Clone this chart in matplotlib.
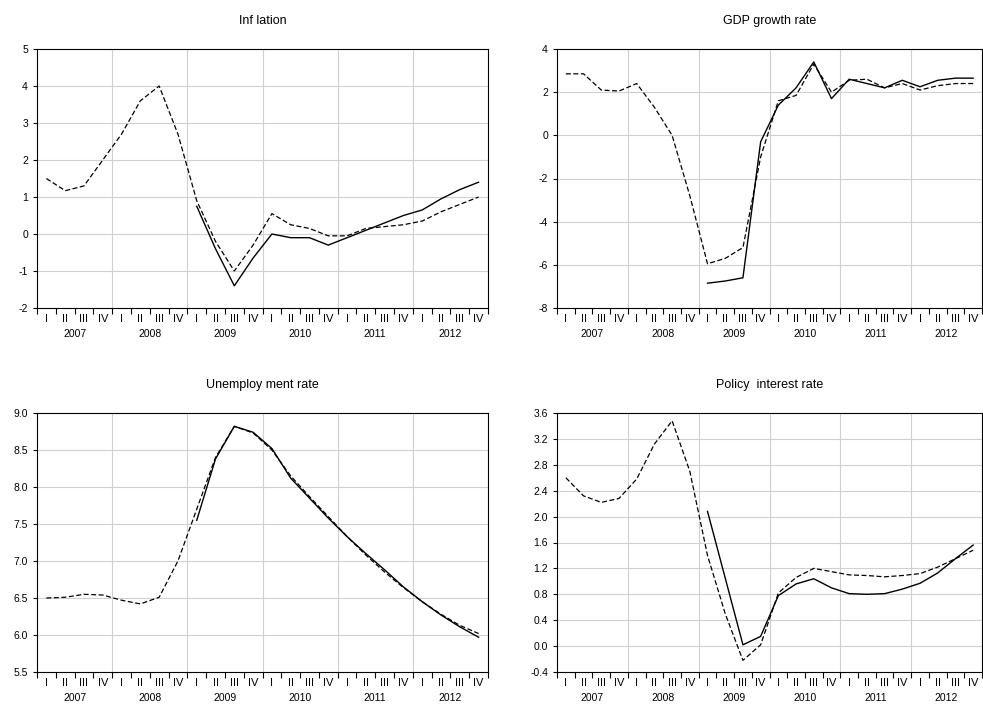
import matplotlib
matplotlib.use('Agg')
import matplotlib.pyplot as plt
import numpy as np

matplotlib.rcParams['font.family'] = ['Liberation Sans', 'DejaVu Sans']
matplotlib.rcParams['font.size'] = 7.5

years = ['2007', '2008', '2009', '2010', '2011', '2012']
quarters = ['I', 'II', 'III', 'IV']

infl_dash = [1.5, 1.17, 1.3, 2.0, 2.7, 3.6, 4.0, 2.7, 0.9, -0.2, -1.0, -0.3,
             0.55, 0.25, 0.15, -0.05, -0.05, 0.15, 0.2, 0.25, 0.35, 0.6, 0.8, 1.0]
infl_solid = [0.75, -0.4, -1.4, -0.65, 0.0, -0.1, -0.1, -0.3,
              -0.1, 0.1, 0.3, 0.5, 0.65, 0.95, 1.2, 1.4]

gdp_dash = [2.85, 2.85, 2.1, 2.05, 2.4, 1.3, 0.0, -2.8, -5.95, -5.7, -5.2, -1.0,
            1.6, 1.85, 3.3, 2.0, 2.55, 2.6, 2.2, 2.4, 2.1, 2.3, 2.4, 2.4]
gdp_solid = [-6.85, -6.75, -6.6, -0.3, 1.4, 2.2, 3.4, 1.7,
             2.6, 2.4, 2.2, 2.55, 2.25, 2.55, 2.65, 2.65]

unemp_dash = [6.5, 6.51, 6.55, 6.54, 6.47, 6.42, 6.51, 7.0, 7.7, 8.4, 8.82, 8.73,
              8.5, 8.15, 7.87, 7.6, 7.33, 7.08, 6.85, 6.64, 6.45, 6.28, 6.13, 6.02]
unemp_solid = [7.55, 8.38, 8.82, 8.74, 8.52, 8.12, 7.85, 7.58,
               7.33, 7.1, 6.88, 6.65, 6.45, 6.27, 6.11, 5.97]

rate_dash = [2.6, 2.32, 2.22, 2.28, 2.58, 3.12, 3.48, 2.7, 1.4, 0.5, -0.22, 0.02,
             0.82, 1.06, 1.2, 1.15, 1.10, 1.09, 1.07, 1.09, 1.12, 1.22, 1.35, 1.48]
rate_solid = [2.08, 1.05, 0.02, 0.15, 0.78, 0.96, 1.04, 0.9,
              0.81, 0.80, 0.81, 0.88, 0.97, 1.13, 1.35, 1.56]

panels = [
    ('Inf lation', infl_dash, infl_solid, (-2, 5), np.arange(-2, 5.1, 1), '%d'),
    ('GDP growth rate', gdp_dash, gdp_solid, (-8, 4), np.arange(-8, 4.1, 2), '%d'),
    ('Unemploy ment rate', unemp_dash, unemp_solid, (5.5, 9.0), np.arange(5.5, 9.01, 0.5), '%.1f'),
    ('Policy  interest rate', rate_dash, rate_solid, (-0.4, 3.6), np.arange(-0.4, 3.61, 0.4), '%.1f'),
]

# pixel boxes (left, top, right, bottom)
boxes = [(37, 49, 488, 308), (557, 49, 982, 308), (37, 413, 488, 672), (557, 413, 982, 672)]
W, H = 983, 709

fig = plt.figure(figsize=(W / 100, H / 100), dpi=100)
n = 24
x = np.arange(n) + 0.5
for (title, dash, solid, ylim, yt, fmt), (l, t, r, b) in zip(panels, boxes):
    ax = fig.add_axes([l / W, 1 - b / H, (r - l) / W, (b - t) / H])
    ax.plot(x, dash, 'k--', lw=0.9, dashes=(4, 2))
    ax.plot(x[8:], solid, 'k-', lw=1.0)
    ax.set_xlim(0, n)
    ax.set_ylim(*ylim)
    ax.set_yticks(yt)
    ax.set_yticklabels([fmt % v for v in yt])
    ax.set_xticks(np.arange(0, n + 1, 1))
    ax.set_xticklabels([])
    ax.set_xticks(x, minor=True)
    ax.set_xticklabels(quarters * 6, minor=True, fontsize=8)
    ax.tick_params(axis='x', which='minor', length=0, pad=4)
    ax.tick_params(axis='x', which='major', length=4, direction='out')
    ax.tick_params(axis='y', length=3)
    for k in range(6):
        ax.text(4 * k + 2, -0.08, years[k], transform=ax.get_xaxis_transform(),
                ha='center', va='top', fontsize=7.5)
    for v in range(4, n, 4):
        ax.axvline(v, color='#d0d0d0', lw=0.8, zorder=0)
    for v in yt[1:-1]:
        ax.axhline(v, color='#d0d0d0', lw=0.8, zorder=0)
    for s in ax.spines.values():
        s.set_linewidth(0.8)
    ax.set_title(title, fontsize=9, pad=18)

fig.savefig('out.png', dpi=100)
